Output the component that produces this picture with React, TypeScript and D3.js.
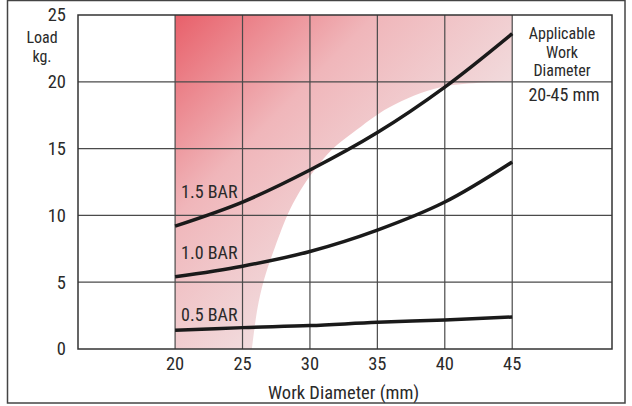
import * as d3 from "d3";
import React from "react";

const xTicks = [20, 25, 30, 35, 40, 45];
const yTicks = [0, 5, 10, 15, 20, 25];
const diameters = [20, 25, 30, 35, 40, 45];
const bar15 = [9.2, 11.0, 13.4, 16.2, 19.6, 23.6];
const bar10 = [5.4, 6.2, 7.3, 8.9, 11.0, 14.0];
const bar05 = [1.4, 1.6, 1.75, 2.0, 2.17, 2.4];
const seriesNames = ["1.5 BAR", "1.0 BAR", "0.5 BAR"];
const labelLoads = [11.3, 6.7, 2.1];
// edge of the shaded zone, from (45, 20) down to the x axis
const zoneX = [45, 39.7, 35.9, 33.2, 31.6, 30.5, 29.5, 28.5, 27.4, 26.6, 26.1, 25.7];
const zoneY = [20.0, 19.6, 18.1, 16.2, 14.9, 13.6, 12.2, 10.4, 7.6, 5.2, 3.0, 0];
const panelLines = ["Applicable", "Work", "Diameter"];
const panelRange = "20-45 mm";

const W = 632;
const H = 406;
const FONT = "'Liberation Sans Narrow', 'Roboto Condensed', 'Arial Narrow', sans-serif";
const INK = "#2a2a2a";

const App: React.FC = () => {
  const x = d3.scaleLinear().domain([12.8, 52.4]).range([78, 612]);
  const y = d3.scaleLinear().domain([0, 25]).range([349, 15]);

  const line = d3
    .line<number>()
    .x((_, i) => x(diameters[i]))
    .y((d) => y(d))
    .curve(d3.curveCatmullRom);

  const edge = d3
    .line<number>()
    .x((d) => x(d))
    .y((_, i) => y(zoneY[i]))
    .curve(d3.curveCatmullRom);

  const zonePath =
    `M${x(20)},${y(25)}L${x(45)},${y(25)}` +
    (edge(zoneX) || "").replace(/^M/, "L") +
    `L${x(20)},${y(0)}Z`;

  const series = [bar15, bar10, bar05];
  const [x0, x1] = x.range();
  const [y0, y1] = y.range();

  return (
    <svg
      width={W}
      height={H}
      style={{ position: "absolute", left: 0, top: 0, fontFamily: FONT, fontWeight: 400 }}
    >
      <defs>
        <linearGradient
          id="zone"
          gradientUnits="userSpaceOnUse"
          x1={x(20)}
          y1={y(25)}
          x2={x(45)}
          y2={y(0)}
        >
          <stop offset="0" stopColor="#e8606a" />
          <stop offset="0.3" stopColor="#f0b6ba" />
          <stop offset="0.6" stopColor="#f1dadc" />
          <stop offset="1" stopColor="#f2eeee" />
        </linearGradient>
      </defs>
      <rect x={7.5} y={0.5} width={617.5} height={402.5} fill="#fff" stroke="#444" strokeWidth={1.5} />

      <path d={zonePath} fill="url(#zone)" />

      {yTicks.slice(1, -1).map((t) => (
        <line key={"h" + t} x1={x0} x2={x1} y1={y(t)} y2={y(t)} stroke="#4a4a4a" strokeWidth={1.2} />
      ))}
      {xTicks.map((t) => (
        <line key={"v" + t} x1={x(t)} x2={x(t)} y1={y0} y2={y1} stroke="#4a4a4a" strokeWidth={1.2} />
      ))}
      <rect x={x0} y={y1} width={x1 - x0} height={y0 - y1} fill="none" stroke="#333" strokeWidth={1.5} />

      {series.map((s, i) => (
        <path key={seriesNames[i]} d={line(s) || ""} fill="none" stroke="#1a1a1a" strokeWidth={3.5} />
      ))}
      {seriesNames.map((n, i) => (
        <text key={"l" + i} x={x(20) + 6} y={y(labelLoads[i])} fontSize={18} fill={INK}>
          {n}
        </text>
      ))}

      {yTicks.map((t) => (
        <text key={"yt" + t} x={66} y={y(t)} dy="0.35em" textAnchor="end" fontSize={18.5} fill={INK}>
          {t}
        </text>
      ))}
      {xTicks.map((t) => (
        <text key={"xt" + t} x={x(t)} y={370} textAnchor="middle" fontSize={18.5} fill={INK}>
          {t}
        </text>
      ))}
      <text x={42} y={43} textAnchor="middle" fontSize={16} fill={INK}>Load</text>
      <text x={42} y={62} textAnchor="middle" fontSize={16} fill={INK}>kg.</text>
      <text x={x(32.5)} y={399} textAnchor="middle" fontSize={18.5} fill={INK}>Work Diameter (mm)</text>

      {panelLines.map((t, i) => (
        <text key={t} x={562} y={39 + i * 18.5} textAnchor="middle" fontSize={16} fill={INK}>
          {t}
        </text>
      ))}
      <text x={564} y={101} textAnchor="middle" fontSize={18} fill={INK}>{panelRange}</text>
    </svg>
  );
};

export default App;
